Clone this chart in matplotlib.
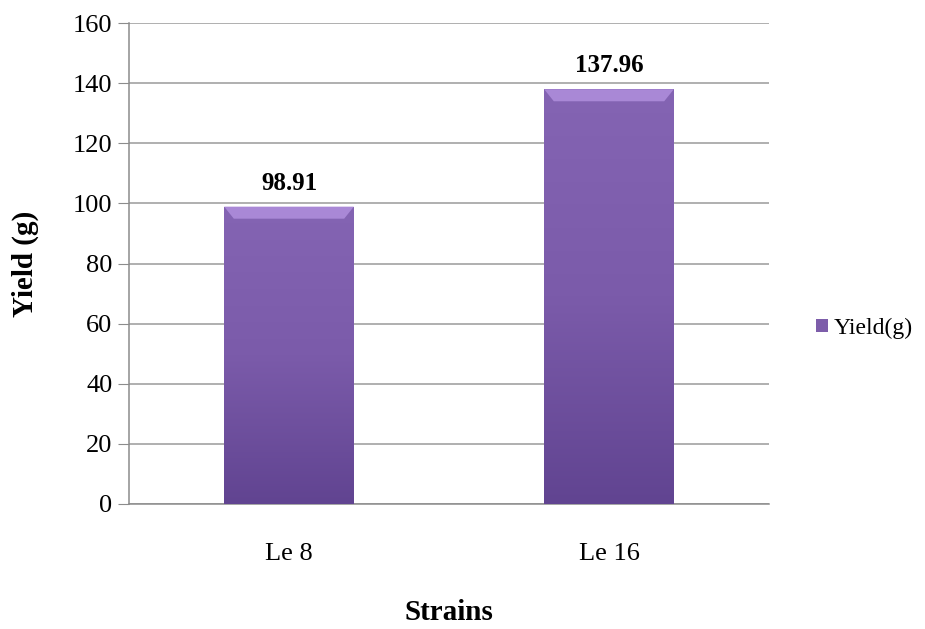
import matplotlib.pyplot as plt
import numpy as np
from matplotlib.colors import LinearSegmentedColormap

strains = ['Le 8', 'Le 16']
yields = [98.91, 137.96]
value_labels = ['98.91', '137.96']

plt.rcParams['font.family'] = ['Liberation Serif', 'DejaVu Serif']

fig = plt.figure(figsize=(9.25, 6.29), dpi=100)
fig.patch.set_facecolor('white')
ax = fig.add_axes([129 / 925, 1 - 504 / 629, 640 / 925, 481 / 629])

x = np.arange(len(strains))
bars = ax.bar(x, yields, width=0.405, color='#7D5DAA', zorder=3, label='Yield(g)')

# vertical gradient inside each bar (lighter top, darker bottom)
cmap = LinearSegmentedColormap.from_list('purp', ['#614491', '#7B5BAA', '#8464B3'])
grad = np.linspace(0, 1, 256).reshape(-1, 1)
for i, b in enumerate(bars):
    x0, w, h = b.get_x(), b.get_width(), b.get_height()
    im = ax.imshow(grad, extent=(x0, x0 + w, 0, h), origin='lower', cmap=cmap,
                   aspect='auto', zorder=3.5)
    im.set_clip_path(b)
    # bevel highlight on top
    ax.fill([x0, x0 + w, x0 + w - 0.03, x0 + 0.03],
            [h, h, h - 4, h - 4], color='#A988D6', zorder=4, lw=0)
    ax.text(x0 + w / 2, h + 4, value_labels[i],
            ha='center', va='bottom', fontsize=18, fontweight='bold', zorder=5)

ax.set_xlim(-0.5, 1.5)
ax.set_ylim(0, 160)
ax.set_yticks(np.arange(0, 161, 20))
ax.set_xticks(x)
ax.set_xticklabels(strains)
ax.tick_params(axis='y', labelsize=19, length=8, color='#8C8C8C', pad=4)
ax.tick_params(axis='x', labelsize=19, length=0, pad=28)
ax.yaxis.grid(True, color='#9A9A9A', linewidth=1.1, zorder=0)
ax.set_axisbelow(True)
for s in ['top', 'right']:
    ax.spines[s].set_visible(False)
ax.spines['left'].set_color('#8C8C8C')
ax.spines['bottom'].set_color('#8C8C8C')
ax.spines['left'].set_linewidth(1.1)
ax.spines['bottom'].set_linewidth(1.1)

ax.set_ylabel('Yield (g)', fontsize=21, fontweight='bold', labelpad=24)
fig.text(449 / 925, 1 - 612 / 629, 'Strains', ha='center', va='center',
         fontsize=21, fontweight='bold')

ax.legend(loc='center left', bbox_to_anchor=(1.04, 0.365), frameon=False,
          fontsize=17, handlelength=0.5, handleheight=0.5, handletextpad=0.25)

fig.savefig('out.png', dpi=100)
